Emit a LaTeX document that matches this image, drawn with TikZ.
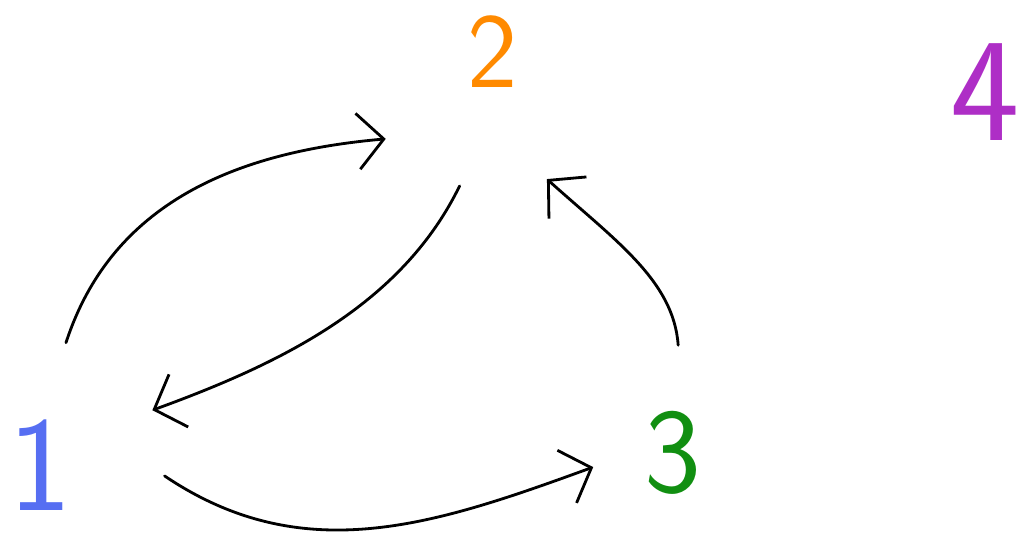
\documentclass[tikz,border=0pt]{standalone}
\usepackage{tikz}
\usetikzlibrary{arrows.meta}
\definecolor{inkblue}{HTML}{566EF2}
\definecolor{inkorange}{HTML}{FF8A00}
\definecolor{inkgreen}{HTML}{118F11}
\definecolor{inkpurple}{HTML}{AE2EC6}
\tikzset{
    vertex/.style={
        circle, inner sep=0pt, outer sep=0pt,
        minimum size=6.9cm, font=\sffamily
    },
    link/.style={
        -{Straight Barb[length=6.5mm, width=14mm, line width=2pt]},
        line width=2pt, line cap=round, color=black
    }
}

\begin{document}
\begin{tikzpicture}[x=0.025cm, y=-0.025cm]
    \useasboundingbox (0,0) rectangle (1029,549);

    % Nodes
    \node[vertex, minimum size=6.25cm, text=inkblue, font=\sffamily\fontsize{96}{96}\selectfont] (n1) at (40,465) {1};
    \node[vertex, text=inkorange, font=\sffamily\fontsize{76}{76}\selectfont] (n2) at (493,52) {2};
    \node[vertex, minimum size=4.05cm, text=inkgreen, font=\sffamily\fontsize{86}{86}\selectfont] (n3) at (673,453) {3};
    \node[vertex, text=inkpurple, font=\sffamily\fontsize{105}{105}\selectfont] (n4) at (985,92) {4};

    % Edges
    \draw[link] (n1.78) to[out=72, in=185] (n2.-141);
    \draw[link] (n2.-104) to[out=244, in=20, looseness=0.9] (n1.26);
    \draw[link] (n1.-5) to[out=-34, in=200] (n3.190);
    \draw[link, shorten <=0.68cm] (n3.85) to[out=94, in=-42] (n2.-67);

\end{tikzpicture}
\end{document}
